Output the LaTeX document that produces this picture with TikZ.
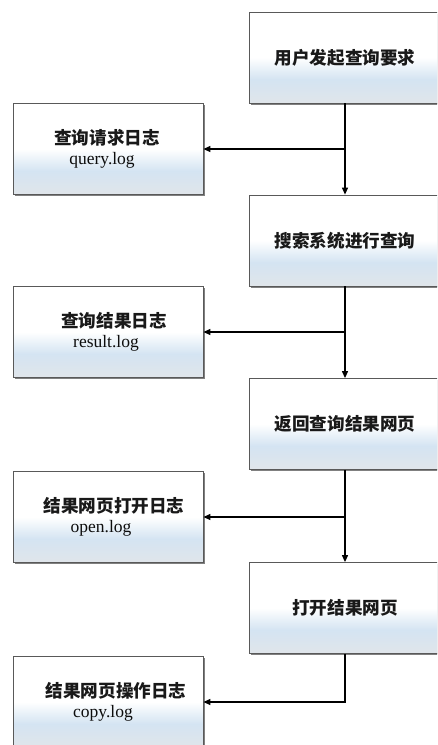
\documentclass[tikz,border=0pt]{standalone}
\usepackage{fontspec}
\setmainfont{Liberation Serif}
\newfontfamily\cjk{Noto Sans CJK SC}
\usetikzlibrary{arrows.meta,shadows}
\definecolor{boxbot}{RGB}{224,229,234}
\definecolor{boxmid}{RGB}{212,228,242}
\pgfdeclareverticalshading{boxshade}{100bp}{color(0bp)=(boxbot); color(25bp)=(boxbot); color(38bp)=(boxmid); color(50bp)=(white); color(100bp)=(white)}
\tikzset{
  flowbox/.style={rectangle, draw=black!65, line width=0.8pt, shading=boxshade, shade,
    minimum height=91pt, inner sep=0pt,
    drop shadow={shadow xshift=1.6pt, shadow yshift=-1.6pt, fill=black!50, opacity=1}},
  rbox/.style={flowbox, minimum width=192pt},
  lbox/.style={flowbox, minimum width=190pt},
  cjktxt/.style={font=\cjk\bfseries\fontsize{17.6}{20}\selectfont, text=black!90, inner sep=0pt},
  logtxt/.style={font=\fontsize{17.5}{20}\selectfont, text=black!95, inner sep=0pt},
  conn/.style={draw=black, line width=1.2pt, -{Triangle[length=7pt,width=6pt]}},
}
\begin{document}
\begin{tikzpicture}[x=1pt,y=-1pt]
\useasboundingbox (0,0) rectangle (437,745);
\clip (0,0) rectangle (437,745);
% right column
\node[rbox] (r1) at (345,57.5) {};
\node[rbox] (r2) at (345,240.5) {};
\node[rbox] (r3) at (345,424) {};
\node[rbox] (r4) at (345,608) {};
\node[cjktxt] (t1) at (r1.center) {用户发起查询要求};
\node[cjktxt] (t2) at (r2.center) {搜索系统进行查询};
\node[cjktxt] (t3) at (r3.center) {返回查询结果网页};
\node[cjktxt] (t4) at (r4.center) {打开结果网页};
% left column
\node[lbox] (l1) at (108,149) {};
\node[lbox] (l2) at (108,332) {};
\node[lbox] (l3) at (108,517) {};
\node[lbox] (l4) at (108,702) {};
\node[cjktxt] (c1) at (107,138) {查询请求日志};
\node[logtxt] (g1) at (102,160) {query.log};
\node[cjktxt] (c2) at (114,321) {查询结果日志};
\node[logtxt] (g2) at (106,343) {result.log};
\node[cjktxt] (c3) at (114,506) {结果网页打开日志};
\node[logtxt] (g3) at (101,528) {open.log};
\node[cjktxt] (c4) at (116,691) {结果网页操作日志};
\node[logtxt] (g4) at (103,713) {copy.log};
% connectors
\draw[conn] (r1.south) -- (r2.north);
\draw[conn] (r2.south) -- (r3.north);
\draw[conn] (r3.south) -- (r4.north);
\draw[conn] (r4.south) -- (r4.south |- l4.east) -- (l4.east);
\coordinate (j1) at (r1.south |- l1.east);
\coordinate (j2) at (r2.south |- l2.east);
\coordinate (j3) at (r3.south |- l3.east);
\draw[conn] (j1) -- (l1.east);
\draw[conn] (j2) -- (l2.east);
\draw[conn] (j3) -- (l3.east);
\end{tikzpicture}
\end{document}
